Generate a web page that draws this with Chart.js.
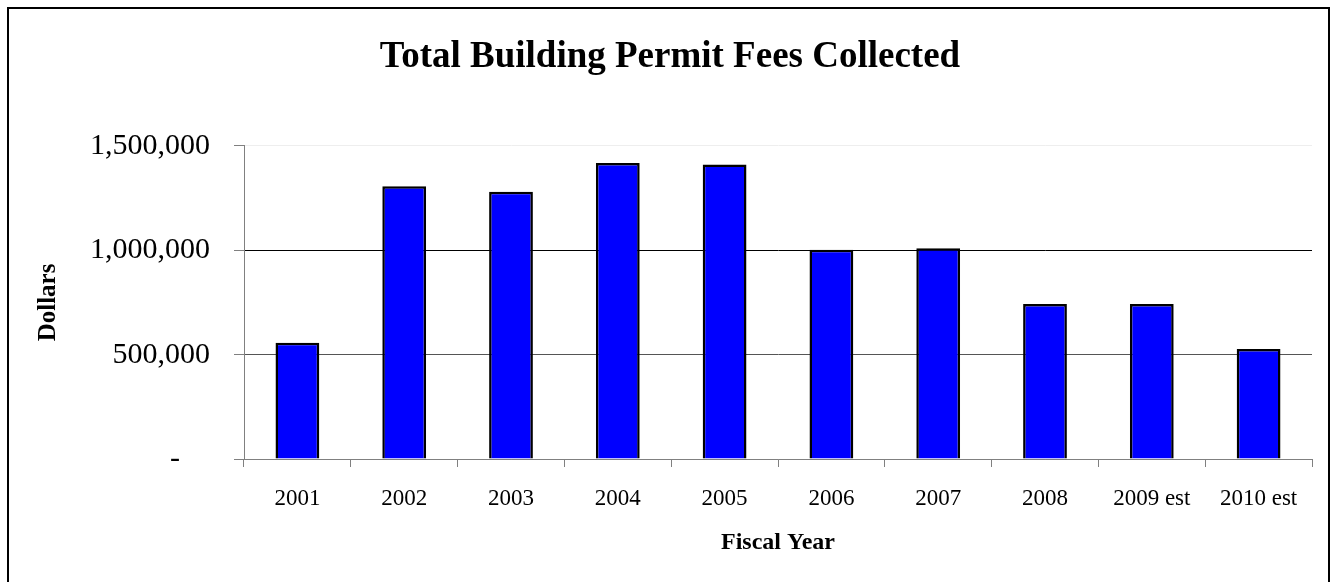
<!DOCTYPE html>
<html>
<head>
<meta charset="utf-8">
<script src="https://cdn.jsdelivr.net/npm/chart.js@4"></script>
<style>
  body { margin: 0; background: #fff; }
  #wrap { position: relative; width: 1334px; height: 582px; overflow: hidden; }
  #frame { position: absolute; left: 7px; top: 7px; width: 1319px; height: 600px;
           border: 2px solid #000; pointer-events: none; }
</style>
</head>
<body>
<div id="wrap">
  <canvas id="chartFees" width="1334" height="582"></canvas>
  <div id="frame"></div>
</div>
<script>
// Data
const fiscalYears = ['2001', '2002', '2003', '2004', '2005', '2006', '2007', '2008', '2009 est', '2010 est'];
const feesCollected = [557000, 1307000, 1280000, 1418000, 1411000, 1002000, 1010000, 743000, 743000, 527000];
const yTicks = [0, 500000, 1000000, 1500000];

const serif = "'Liberation Serif', 'Times New Roman', serif";

// Grid colours per tick value
function gridColor(ctx) {
    const v = ctx.tick ? ctx.tick.value : 0;
    if (v === 1500000) return '#eeeeee';
    if (v === 1000000) return '#000000';
    if (v === 500000) return '#555555';
    return '#808080';
}

const ctx = document.getElementById('chartFees').getContext('2d');
new Chart(ctx, {
    type: 'bar',
    data: {
        labels: fiscalYears,
        datasets: [{
            label: 'Fees',
            data: feesCollected,
            backgroundColor: '#0000ff',
            borderColor: '#000000',
            borderWidth: 2.5,
            barPercentage: 0.41,
            categoryPercentage: 1
        }]
    },
    options: {
        responsive: false,
        animation: false,
        layout: { padding: { left: 28, right: 22, top: 0, bottom: 0 } },
        plugins: {
            legend: { display: false },
            tooltip: { enabled: false },
            title: {
                display: true,
                text: 'Total Building Permit Fees Collected',
                color: '#000',
                font: { family: serif, size: 37, weight: 'bold' },
                padding: { top: 35.5, bottom: 66 }
            }
        },
        scales: {
            x: {
                afterFit: scale => { scale.height = 123; },
                border: { color: '#808080', width: 1 },
                grid: {
                    offset: true,
                    drawOnChartArea: false,
                    drawTicks: true,
                    tickLength: 8,
                    tickColor: '#808080'
                },
                ticks: {
                    color: '#000',
                    padding: 18,
                    maxRotation: 0,
                    font: { family: serif, size: 23 }
                },
                title: {
                    display: true,
                    text: 'Fiscal Year',
                    color: '#000',
                    font: { family: serif, size: 24, weight: 'bold' },
                    padding: { top: 0, bottom: 25 }
                }
            },
            y: {
                min: 0,
                max: 1500000,
                afterFit: scale => { scale.width = 216; },
                afterBuildTicks: scale => { scale.ticks = yTicks.map(v => ({ value: v })); },
                border: { color: '#808080', width: 1 },
                grid: {
                    color: gridColor,
                    tickColor: '#808080',
                    tickLength: 10
                },
                ticks: {
                    color: '#000',
                    padding: 24,
                    font: { family: serif, size: 30 },
                    callback: v => v === 0 ? '-\u2007\u2007' : v.toLocaleString('en-US')
                },
                title: {
                    display: true,
                    text: 'Dollars',
                    color: '#000',
                    font: { family: serif, size: 25, weight: 'bold' },
                    padding: { top: 6, bottom: 0 }
                }
            }
        }
    }
});
</script>
</body>
</html>
